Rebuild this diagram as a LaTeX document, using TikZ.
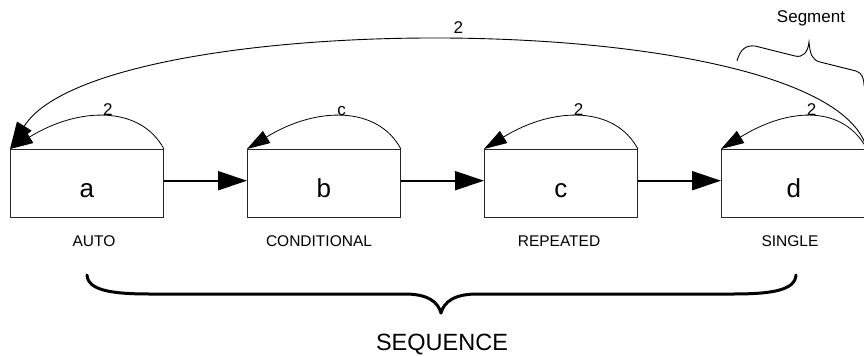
\documentclass[tikz,border=0pt]{standalone}
\usepackage{fontspec}
\setmainfont{Liberation Sans}
\usetikzlibrary{arrows.meta}
\begin{document}
\begin{tikzpicture}[x=1pt,y=-1pt,
  stepbox/.style={draw=black!85, line width=0.9pt, inner sep=0pt, minimum width=153pt,
    text height=48pt, text depth=19.5pt, anchor=north west, font=\fontsize{26}{26}\selectfont},
  flow/.style={line width=2pt, -{Triangle[length=29pt,width=19pt]}},
  selfloop/.style={line width=0.8pt, -{Triangle[length=23pt,width=14pt]}},
  bigarc/.style={line width=0.9pt, -{Triangle[length=27pt,width=17pt]}},
  looplabel/.style={font=\fontsize{17}{17}\selectfont, inner sep=1pt},
  caption/.style={font=\fontsize{15.5}{15.5}\selectfont, anchor=base}
]
\useasboundingbox (0,0) rectangle (864,356);
\clip (0,0) rectangle (864,356);

\node[stepbox] (a) at (10,149) {a};
\node[stepbox] (b) at (247,149) {b};
\node[stepbox] (c) at (484,149) {c};
\node[stepbox, minimum width=145pt] (d) at (721,149) {d};

\draw[flow] ([yshift=2.5pt]a.east) -- ([yshift=2.5pt]b.west);
\draw[flow] ([yshift=2.5pt]b.east) -- ([yshift=2.5pt]c.west);
\draw[flow] ([yshift=2.5pt]c.east) -- ([yshift=2.5pt]d.west);

\draw[selfloop] (a.north east) .. controls +(-23,-43) and +(70,-43) .. (a.north west)
  node[pos=0.48, above, looplabel] {2};
\draw[selfloop] (b.north east) .. controls +(-23,-43) and +(70,-43) .. (b.north west)
  node[pos=0.5, above, looplabel] {c};
\draw[selfloop] (c.north east) .. controls +(-23,-43) and +(70,-43) .. (c.north west)
  node[pos=0.5, above, looplabel] {2};
\draw[selfloop] (d.north east) .. controls +(-23,-43) and +(70,-43) .. (d.north west)
  node[pos=0.5, above, looplabel] {2};

\draw[bigarc] (d.north east) .. controls (830,5) and (100,5) .. (a.north west)
  node[pos=0.5, above=6pt, font=\fontsize{17}{17}\selectfont, inner sep=1pt] {2};

\node[caption] (lauto) at (94,246) {AUTO};
\node[caption] (lcond) at (319,246) {CONDITIONAL};
\node[caption] (lrep) at (559,246) {REPEATED};
\node[caption] (lsingle) at (790,246) {SINGLE};

% sequence brace
\draw[line width=3pt, line cap=round, line join=round]
  (87,275) .. controls (88,290) and (110,294) .. (150,294) -- (405,294)
  .. controls (428,294) and (438,302) .. (441,313)
  .. controls (444,302) and (454,294) .. (477,294) -- (733,294)
  .. controls (773,294) and (795,290) .. (796,275);
\node[font=\fontsize{23.5}{23.5}\selectfont, anchor=base] (seq) at (442,350) {SEQUENCE};

% segment brace
\draw[line width=0.9pt]
  (737,61) .. controls (740,50) and (745,45) .. (755,46) -- (795,56)
  .. controls (803,58) and (808,52) .. (809,42)
  .. controls (810,54) and (812,60) .. (820,62) -- (856,71)
  .. controls (862,73) and (864,78) .. (864,86);
\node[font=\fontsize{17}{17}\selectfont, anchor=base] (seg) at (811,22) {Segment};
\end{tikzpicture}
\end{document}
